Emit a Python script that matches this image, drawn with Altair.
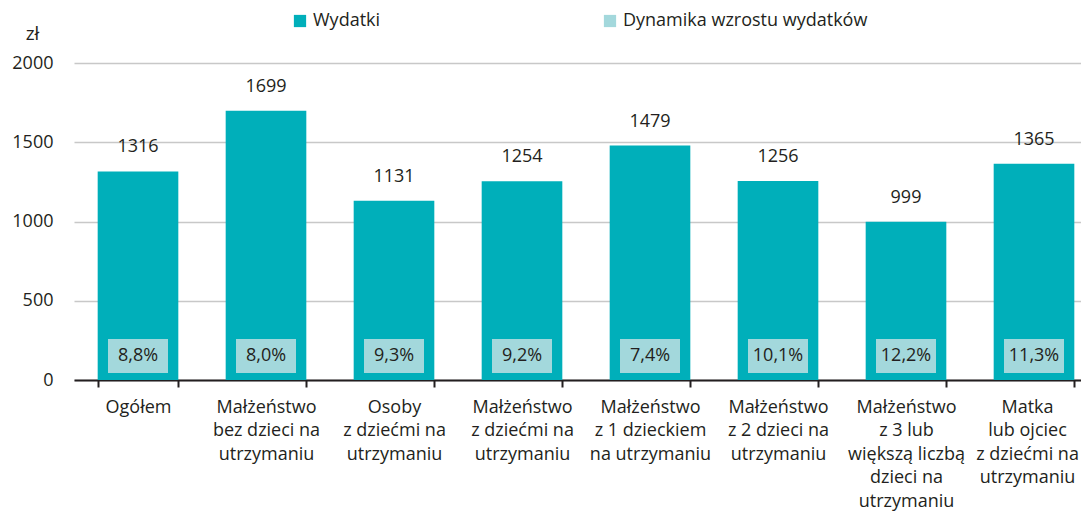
import altair as alt
import pandas as pd

categories = [
    "Ogółem",
    "Małżeństwo|bez dzieci na|utrzymaniu",
    "Osoby|z dziećmi na|utrzymaniu",
    "Małżeństwo|z dziećmi na|utrzymaniu",
    "Małżeństwo|z 1 dzieckiem|na utrzymaniu",
    "Małżeństwo|z 2 dzieci na|utrzymaniu",
    "Małżeństwo|z 3 lub|większą liczbą|dzieci na|utrzymaniu",
    "Matka|lub ojciec|z dziećmi na|utrzymaniu",
]
wydatki = [1316, 1699, 1131, 1254, 1479, 1256, 999, 1365]
dynamika = [8.8, 8.0, 9.3, 9.2, 7.4, 10.1, 12.2, 11.3]
y_ticks = [0, 500, 1000, 1500, 2000]
series = ["Wydatki", "Dynamika wzrostu wydatków"]

df = pd.DataFrame({
    "kat": categories,
    "wydatki": wydatki,
    "dyn": [f"{v:.1f}".replace(".", ",") + "%" for v in dynamika],
    "s1": series[0],
    "s2": series[1],
})

FONT = "Open Sans"
TXT = "#231F20"
BAR = "#00AFBA"
BOX = "#A3D8DC"

x = alt.X("kat:N", sort=None, title=None,
          scale=alt.Scale(paddingInner=0.37, paddingOuter=0.185, range=[0, 1024]),
          axis=alt.Axis(labelAngle=0, labelExpr="split(datum.label, '|')",
                        labelLineHeight=23.5, labelFontSize=18, labelColor=TXT,
                        labelFont=FONT, labelPadding=11, labelBaseline="top",
                        labelLimit=0,
                        labelOffset={"condition": {"test": "datum.index === 1", "value": -7},
                                     "value": 0},
                        tickBand="extent", tickSize=7, tickColor=TXT, tickWidth=2,
                        domainColor=TXT, domainWidth=2.2, grid=False))

y_scale = alt.Scale(domain=[0, 2000], nice=False)
y_axis = alt.Axis(values=y_ticks, format="d", ticks=False, domain=False,
                  gridColor="#C8C8C8", gridWidth=1.3,
                  labelFontSize=18, labelFont=FONT, labelColor=TXT,
                  labelPadding=21,
                  titleAngle=0, titleX=-42, titleY=-30, titleAlign="center",
                  titleBaseline="middle", titleFontSize=19,
                  titleFontWeight="normal", titleFont=FONT, titleColor=TXT)

color = alt.Color("s:N", scale=alt.Scale(domain=series, range=[BAR, BOX]),
                  legend=alt.Legend(title=None, orient="none", legendX=217, legendY=-51,
                                    direction="horizontal", symbolType="square",
                                    symbolSize=150, symbolStrokeWidth=0,
                                    labelFontSize=18, labelFont=FONT, labelColor=TXT,
                                    labelLimit=0,
                                    columnPadding=220, labelOffset=4))

bars = alt.Chart(df).transform_calculate(s="datum.s1").mark_bar().encode(
    x=x,
    y=alt.Y("wydatki:Q", title="zł", scale=y_scale, axis=y_axis),
    color=color,
)

values = alt.Chart(df).mark_text(baseline="middle", dy=-24, fontSize=18,
                                 font=FONT, color=TXT).encode(
    x=x, y=alt.Y("wydatki:Q", title="zł", scale=y_scale, axis=y_axis),
    text="wydatki:Q")

boxes = alt.Chart(df).transform_calculate(s="datum.s2").mark_bar(width=60).encode(
    x=x, y=alt.Y(datum=44, title="zł", scale=y_scale, axis=y_axis),
    y2=alt.datum(258), color=color)

pct = alt.Chart(df).mark_text(baseline="middle", fontSize=18, font=FONT,
                              color=TXT).encode(
    x=x, y=alt.Y(datum=151, title="zł", scale=y_scale, axis=y_axis),
    text="dyn:N")

chart = alt.layer(bars, values, boxes, pct).properties(
    width=1007, height=317,
    autosize=alt.AutoSizeParams(type="none"),
    padding={"left": 66, "top": 55, "right": 0, "bottom": 131},
).configure(background="white").configure_view(stroke=None)

chart.save("out.html", embed_options={"renderer": "svg", "actions": False})
